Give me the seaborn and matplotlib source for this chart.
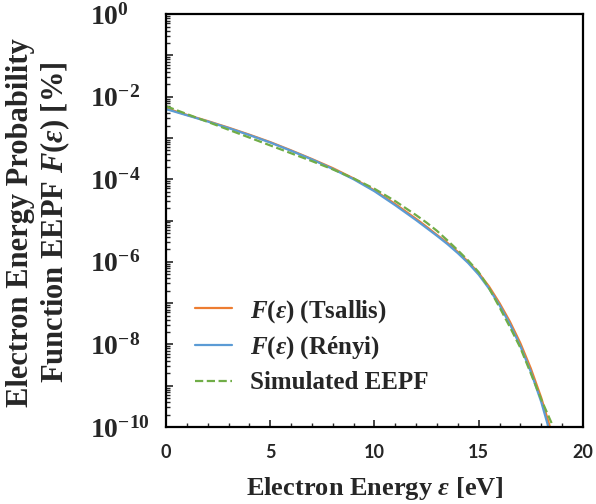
import numpy as np
import pandas as pd
import matplotlib
matplotlib.use("Agg")
import matplotlib.pyplot as plt
import matplotlib.ticker as mticker
import seaborn as sns

# Electron energy (eV) and log10 of EEPF values
energy_tsallis = [0, 1, 2, 3, 4, 5, 6, 7, 8, 9, 10, 11, 12, 12.5, 13, 13.5, 14, 14.5,
                  15, 15.5, 16, 16.5, 17, 17.5, 18, 18.42, 18.6]
log_tsallis = [-2.28, -2.44, -2.59, -2.75, -2.92, -3.10, -3.30, -3.51, -3.73, -3.98, -4.27,
               -4.60, -4.96, -5.15, -5.35, -5.54, -5.76, -6.00, -6.27, -6.60, -7.00, -7.45,
               -7.97, -8.58, -9.29, -10.00, -10.35]

energy_renyi = [0, 1, 2, 3, 4, 5, 6, 7, 8, 9, 10, 11, 12, 12.5, 13, 13.5, 14, 14.5,
                15, 15.5, 16, 16.5, 17, 17.5, 18, 18.3, 18.5]
log_renyi = [-2.30, -2.45, -2.60, -2.76, -2.93, -3.11, -3.31, -3.52, -3.75, -4.00, -4.29,
             -4.63, -4.99, -5.18, -5.37, -5.57, -5.79, -6.03, -6.31, -6.65, -7.05, -7.51,
             -8.04, -8.66, -9.39, -9.92, -10.36]

energy_sim = [0, 1, 2, 3, 4, 5, 6, 7, 8, 9, 10, 11, 12, 12.5, 13, 13.5, 14, 14.5,
              15, 15.5, 16, 16.5, 17, 17.5, 18, 18.58, 18.8]
log_sim = [-2.23, -2.42, -2.61, -2.80, -2.99, -3.18, -3.37, -3.56, -3.76, -3.98, -4.23,
           -4.53, -4.87, -5.05, -5.25, -5.48, -5.72, -5.97, -6.25, -6.64, -7.10, -7.58,
           -8.08, -8.70, -9.33, -10.00, -10.30]

labels = ["$\\mathit{F(ε)}$ (Tsallis)", "$\\mathit{F(ε)}$ (Rényi)", "Simulated EEPF"]
colors = ["#ED7D31", "#5B9BD5", "#70AD47"]

sns.set_style("white")
plt.rcParams["font.family"] = ["Liberation Serif", "DejaVu Serif"]
plt.rcParams["font.weight"] = "bold"
plt.rcParams["mathtext.fontset"] = "custom"
plt.rcParams["mathtext.rm"] = "Liberation Serif:bold"
plt.rcParams["mathtext.it"] = "Liberation Serif:italic:bold"
plt.rcParams["mathtext.bf"] = "Liberation Serif:bold"

fig = plt.figure(figsize=(5.96, 5.04), dpi=100)
ax = fig.add_axes([0.2785, 0.1528, 0.6995, 0.8192])

series = [
    (energy_tsallis, log_tsallis, labels[0], colors[0], "-"),
    (energy_renyi, log_renyi, labels[1], colors[1], "-"),
    (energy_sim, log_sim, labels[2], colors[2], "--"),
]
for xs, ls_, lab, col, sty in series:
    df = pd.DataFrame({"E": xs, "F": np.power(10.0, ls_)})
    sns.lineplot(data=df, x="E", y="F", ax=ax, color=col, linestyle=sty,
                 linewidth=1.6, label=lab)

ax.set_yscale("log")
ax.set_xlim(0, 20)
ax.set_ylim(1e-10, 1e0)

ax.xaxis.set_major_locator(mticker.MultipleLocator(5))
ax.xaxis.set_minor_locator(mticker.MultipleLocator(1))
ax.yaxis.set_major_locator(mticker.LogLocator(base=10, numticks=20))
ax.yaxis.set_minor_locator(mticker.LogLocator(base=10, subs=np.arange(2, 10), numticks=20))


def yfmt(v, pos):
    e = int(round(np.log10(v)))
    if e % 2 != 0:
        return ""
    return "$\\mathbf{10^{%d}}$" % e


ax.yaxis.set_major_formatter(mticker.FuncFormatter(yfmt))
ax.yaxis.set_minor_formatter(mticker.NullFormatter())

ax.tick_params(axis="both", which="major", direction="in", length=5, width=1.2,
               bottom=True, left=True, top=False, right=False)
ax.tick_params(axis="both", which="minor", direction="in", length=3, width=1,
               bottom=True, left=True, top=False, right=False)
ax.tick_params(axis="y", labelsize=20, pad=54.5)
for t in ax.get_yticklabels():
    t.set_horizontalalignment("left")
ax.tick_params(axis="x", labelsize=13, pad=12)
for t in ax.get_xticklabels():
    t.set_fontfamily("Lato")
    t.set_fontweight("bold")

for sp in ax.spines.values():
    sp.set_visible(True)
    sp.set_color("black")
    sp.set_linewidth(1.6)

ax.set_xlabel("Electron Energy $\\mathit{ε}$ [eV]", fontsize=19, fontweight="bold", labelpad=10)
ax.set_ylabel("Electron Energy Probability\nFunction EEPF $\\mathit{F(ε)}$ [%]",
              fontsize=22, fontweight="bold", linespacing=1.15)
ax.yaxis.set_label_coords(-0.225, 0.495)

leg = ax.legend(loc="upper left", bbox_to_anchor=(0.07, 0.313), frameon=False,
                borderpad=0, borderaxespad=0,
                fontsize=18, handlelength=1.48, handletextpad=0.72, labelspacing=0.40)
for t in leg.get_texts():
    t.set_fontweight("bold")

fig.savefig("out.png", dpi=100)
